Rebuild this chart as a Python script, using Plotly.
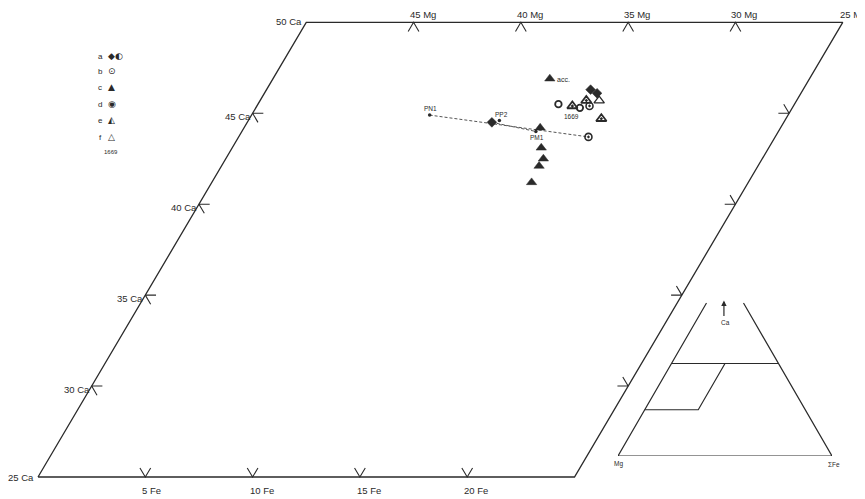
import numpy as np
import plotly.graph_objects as go

SQ = np.sqrt(3) / 2

# ---------------- data (compositions, mol %) ----------------
CA_MIN, CA_MAX = 25, 50
FE_MIN, FE_MAX = 0, 25
fe_ticks = [5, 10, 15, 20]
mg_ticks = [45, 40, 35, 30]
ca_ticks = [30, 35, 40, 45]

# symbol groups: Ca, Fe (Mg = 100 - Ca - Fe)
a_ca = [44.5, 46.3, 46.1]
a_fe = [11.4, 15.1, 15.5]
b_ca = [45.5, 45.3]
b_fe = [14.0, 15.1]
c_ca = [46.9, 44.2, 43.1, 42.5, 42.1, 41.2]
c_fe = [12.9, 13.8, 14.4, 14.8, 14.8, 14.9]
d_ca = [45.4, 43.7]
d_fe = [15.5, 16.3]
e_ca = [45.4, 45.7, 44.7]
e_fe = [14.7, 15.2, 16.4]
f_ca = [45.7]
f_fe = [15.8]

# labelled analyses
pt_names = ["PN1", "PP2", "PM1"]
pt_ca = [44.9, 44.6, 44.0]
pt_fe = [8.3, 11.7, 13.7]

# dashed tie lines (Ca, Fe of ends)
tie1_ca = [44.9, 43.7]
tie1_fe = [8.3, 16.3]
tie2_ca = [44.5, 44.0]
tie2_fe = [11.4, 13.7]

# inset ternary (fractions)
inset_top = 0.827
inset_ca_line = 0.5
inset_quad_ca = [0.5, 0.25]
inset_quad_fe = 0.25

INK = "#2a2a2a"
FONT = "Liberation Sans, Arial, sans-serif"

# figure sits inside the page's 8px body margin
W, H = 857, 491
OFF = 8


def tern(ca, fe, ca0=CA_MIN):
    ca = np.asarray(ca, float)
    fe = np.asarray(fe, float)
    return fe + (ca - ca0) / 2.0, (ca - ca0) * SQ


def itern(ca, fe):
    ca = np.asarray(ca, float)
    fe = np.asarray(fe, float)
    return fe + ca / 2.0, ca * SQ


fig = go.Figure()


def seg(ca, fe, xa="x", ya="y", width=1.3, color=INK, dash=None, f=tern):
    x, y = f(ca, fe)
    fig.add_trace(go.Scatter(x=list(x), y=list(y), mode="lines", xaxis=xa, yaxis=ya,
                             line=dict(color=color, width=width, dash=dash),
                             hoverinfo="skip", showlegend=False, cliponaxis=False))


# frame parallelogram
seg([CA_MIN, CA_MIN, CA_MAX, CA_MAX, CA_MIN], [FE_MIN, FE_MAX, FE_MAX, FE_MIN, FE_MIN])

d = 0.5
for fe in fe_ticks:
    seg([CA_MIN + d, CA_MIN, CA_MIN + d], [fe - d, fe, fe], width=1.1)
for mg in mg_ticks:
    fe = 100 - CA_MAX - mg
    seg([CA_MAX - d, CA_MAX, CA_MAX - d], [fe, fe, fe + d], width=1.1)
for ca in ca_ticks:
    seg([ca, ca, ca - d], [FE_MIN + d, FE_MIN, FE_MIN + d], width=1.1)
for ca in ca_ticks:
    seg([ca, ca, ca + d], [FE_MAX - d, FE_MAX, FE_MAX - d], width=1.1)

# tie lines
seg(tie1_ca, tie1_fe, width=1.0, color="#555", dash="3px,2px")
seg(tie2_ca, tie2_fe, width=1.0, color="#555", dash="3px,2px")


def pts(ca, fe, symbol, size, color=INK, lw=1.2):
    x, y = tern(ca, fe)
    fig.add_trace(go.Scatter(x=list(x), y=list(y), mode="markers",
                             marker=dict(symbol=symbol, size=size, color=color,
                                         line=dict(color=INK, width=lw)),
                             hoverinfo="skip", showlegend=False, cliponaxis=False))


pts(pt_ca, pt_fe, "circle", 3.5, lw=0)
pts(a_ca, a_fe, "diamond", 7.5, lw=0.5)
pts(b_ca, b_fe, "circle-open", 6.5, lw=1.8)
pts(c_ca, c_fe, "triangle-up", 9, lw=0.5)
pts(d_ca, d_fe, "circle-open-dot", 7, lw=1.6)
pts(e_ca, e_fe, "triangle-up-open-dot", 9, lw=1.8)
pts(f_ca, f_fe, "triangle-up-open", 9, lw=1.3)

ann = []


def lab(text, x, y, xa="x", ya="y", size=9.5, xanchor="center", yanchor="middle", xs=0, ys=0):
    ann.append(dict(text=text, x=float(x), y=float(y), xref=xa, yref=ya, showarrow=False,
                    xanchor=xanchor, yanchor=yanchor, xshift=xs, yshift=ys,
                    font=dict(family=FONT, size=size, color=INK)))


for fe in fe_ticks:
    x, y = tern(CA_MIN, fe)
    lab(f"{fe} Fe", x, y, xanchor="left", xs=-5, ys=-13)
for mg in mg_ticks:
    x, y = tern(CA_MAX, 100 - CA_MAX - mg)
    lab(f"{mg} Mg", x, y, xanchor="left", xs=-6, ys=8)
for ca in ca_ticks:
    x, y = tern(ca, FE_MIN)
    lab(f"{ca} Ca", x, y, xanchor="right", xs=0, ys=-3)
x, y = tern(CA_MIN, FE_MIN)
lab("25 Ca", x, y, xanchor="right", xs=-2)
x, y = tern(CA_MAX, FE_MIN)
lab("50 Ca", x, y, xanchor="right", xs=-2, ys=1)
x, y = tern(CA_MAX, FE_MAX)
lab("25 Mg", x, y, xanchor="left", xs=-5, ys=8)

offs = {"PN1": (1, 7), "PP2": (2, 6), "PM1": (1, -6)}
for n, ca, fe in zip(pt_names, pt_ca, pt_fe):
    x, y = tern(ca, fe)
    lab(n, x, y, size=6.5, xs=offs[n][0], ys=offs[n][1])
x, y = tern(c_ca[0], c_fe[0])
lab("acc.", x, y, size=7, xanchor="left", xs=5, ys=-1)
x, y = tern(e_ca[0], e_fe[0])
lab("1669", x, y, size=6.5, xs=-1, ys=-11)


def px(p):
    return (p - OFF) / W


def py(p):
    return 1 - (p - OFF) / H


leg_rows = [("a", "◆◐"), ("b", "⊙"), ("c", "▲"), ("d", "◉"), ("e", "◭"), ("f", "△")]
leg_y = [56, 71, 87, 104, 120, 137]
for (letter, sym), yy in zip(leg_rows, leg_y):
    ann.append(dict(text=letter, x=px(100), y=py(yy), xref="paper", yref="paper",
                    showarrow=False, xanchor="center", yanchor="middle",
                    font=dict(family=FONT, size=8, color=INK)))
    ann.append(dict(text=sym, x=px(106), y=py(yy), xref="paper", yref="paper",
                    showarrow=False, xanchor="left", yanchor="middle",
                    font=dict(family="DejaVu Sans", size=9, color=INK)))
ann.append(dict(text="1669", x=px(111), y=py(152), xref="paper", yref="paper",
                showarrow=False, xanchor="center", yanchor="middle",
                font=dict(family=FONT, size=6, color=INK)))

# ---------------- inset ----------------
seg([inset_top, 0, 0, inset_top], [0, 0, 1, 1 - inset_top], xa="x2", ya="y2", width=1.2, f=itern)
seg([inset_ca_line, inset_ca_line], [0, 1 - inset_ca_line], xa="x2", ya="y2", width=1.2, f=itern)
seg([inset_quad_ca[0], inset_quad_ca[1], inset_quad_ca[1]],
    [inset_quad_fe, inset_quad_fe, 0], xa="x2", ya="y2", width=1.2, f=itern)

x, y = itern(0, 0)
lab("Mg", x, y, xa="x2", ya="y2", size=6.5, xs=0, ys=-8)
x, y = itern(0, 1)
lab("ΣFe", x, y, xa="x2", ya="y2", size=6.5, xs=2, ys=-8)
x, y = itern(0.72, 0.14)
lab("Ca", x, y, xa="x2", ya="y2", size=6.5)
x, y = itern(0.84, 0.075)
ann.append(dict(text="", x=float(x), y=float(y), xref="x2", yref="y2", ax=0, ay=17,
                showarrow=True, arrowhead=2, arrowsize=0.9, arrowwidth=1.2, arrowcolor=INK))

X0, SX, Y0, SY = 38 - OFF, 21.46, 477 - OFF, 21.0
fig.update_layout(
    width=W, height=H,
    margin=dict(l=0, r=0, t=0, b=0),
    paper_bgcolor="white", plot_bgcolor="rgba(0,0,0,0)",
    showlegend=False,
    annotations=ann,
    xaxis=dict(domain=[0, 1], range=[-X0 / SX, (W - X0) / SX], visible=False, fixedrange=True),
    yaxis=dict(domain=[0, 1], range=[(Y0 - H) / SY, Y0 / SY], visible=False, fixedrange=True),
    xaxis2=dict(domain=[px(618), px(832)], range=[0, 1], visible=False, anchor="y2"),
    yaxis2=dict(domain=[py(456), py(271)], range=[0, SQ], visible=False, anchor="x2"),
)

fig.write_html("out.html")
